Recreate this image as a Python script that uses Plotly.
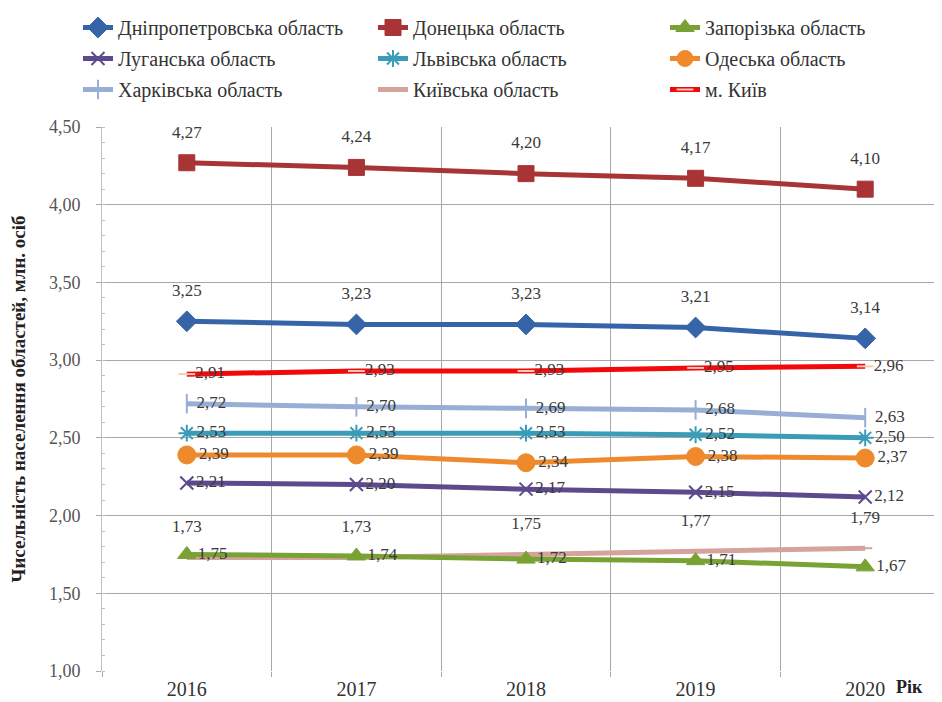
import plotly.graph_objects as go

years = ["2016", "2017", "2018", "2019", "2020"]

dnipro = [3.25, 3.23, 3.23, 3.21, 3.14]
donetsk = [4.27, 4.24, 4.20, 4.17, 4.10]
zaporizhzhia = [1.75, 1.74, 1.72, 1.71, 1.67]
luhansk = [2.21, 2.20, 2.17, 2.15, 2.12]
lviv = [2.53, 2.53, 2.53, 2.52, 2.50]
odesa = [2.39, 2.39, 2.34, 2.38, 2.37]
kharkiv = [2.72, 2.70, 2.69, 2.68, 2.63]
kyiv_obl = [1.73, 1.73, 1.75, 1.77, 1.79]
kyiv_city = [2.91, 2.93, 2.93, 2.95, 2.96]

y_ticks = [1.0, 1.5, 2.0, 2.5, 3.0, 3.5, 4.0, 4.5]

SERIF = "Times New Roman, Liberation Serif, serif"

def fmt(v):
    return f"{v:.2f}".replace(".", ",")

series = [
    # name, values, color, symbol, size, legend, label position
    ("Дніпропетровська область", dnipro, "#3565A8", "diamond", 16, "legend", "above"),
    ("Луганська область", luhansk, "#5D4A8C", "x-thin", 13, "legend", "right"),
    ("Харківська область", kharkiv, "#98AED4", "line-ns", 14, "legend", "right"),
    ("Донецька область", donetsk, "#A93435", "square", 16, "legend2", "above"),
    ("Львівська область", lviv, "#3A9CB6", "asterisk", 14, "legend2", "right"),
    ("Київська область", kyiv_obl, "#D6A29C", "line-ew", 10, "legend2", "above"),
    ("Запорізька область", zaporizhzhia, "#78A233", "triangle-up", 16, "legend3", "right"),
    ("Одеська область", odesa, "#EE8A2C", "circle", 18, "legend3", "right"),
    ("м. Київ", kyiv_city, "#F20A0A", "line-ew", 12, "legend3", "right"),
]

label_font = dict(family=SERIF, size=17, color="#3a3a3a")

fig = go.Figure()
for name, vals, color, sym, size, leg, pos in series:
    line_sym = sym in ("x-thin", "asterisk", "line-ns", "line-ew")
    if name == "м. Київ":
        mline = dict(color="#F6C9B8", width=2)
    elif line_sym:
        mline = dict(color=color, width=2)
    else:
        mline = dict(color=color, width=1)
    fig.add_trace(go.Scatter(
        x=years, y=vals, name=name,
        mode="lines+markers+text" if pos == "right" else "lines+markers",
        line=dict(color=color, width=5),
        marker=dict(symbol=sym, size=size, color=color, line=mline),
        text=[fmt(v) for v in vals] if pos == "right" else None,
        textposition="middle right",
        textfont=label_font,
        legend=leg, legendgroup=name,
        cliponaxis=False,
    ))

# labels above the points (text traces; invisible markers set the offset)
for name, vals, color, sym, size, leg, pos in series:
    if pos != "above":
        continue
    fig.add_trace(go.Scatter(
        x=years, y=vals, mode="markers+text",
        marker=dict(size=32, opacity=0, color=color),
        text=[fmt(v) for v in vals], textposition="top center",
        textfont=label_font, showlegend=False, hoverinfo="skip",
        cliponaxis=False,
    ))

PLOT_L, PLOT_R = 94, 942
PW = PLOT_R - PLOT_L

leg_common = dict(
    xref="paper", yref="container", xanchor="left", yanchor="top", y=1.026,
    orientation="v", tracegroupgap=2, bgcolor="rgba(0,0,0,0)",
    font=dict(family=SERIF, size=20, color="#333"), itemwidth=30,
)

fig.update_layout(
    width=942, height=702,
    margin=dict(l=PLOT_L, r=942 - PLOT_R, t=119, b=39),
    paper_bgcolor="white", plot_bgcolor="white",
    separators=", ",
    font=dict(family=SERIF),
    legend=dict(x=(70 - PLOT_L) / PW, **leg_common),
    legend2=dict(x=(365 - PLOT_L) / PW, **leg_common),
    legend3=dict(x=(657 - PLOT_L) / PW, **leg_common),
    showlegend=True,
)
fig.add_annotation(
    xref="paper", yref="paper",
    x=(917 - PLOT_L) / PW, y=-(691 - 663) / (663 - 119),
    text="<b>Рік</b>", showarrow=False,
    font=dict(family=SERIF, size=18, color="#222"),
)

fig.update_xaxes(
    type="category", range=[-0.5, 4.5], tickson="boundaries",
    showgrid=True, gridcolor="#a8a8a8", gridwidth=1,
    ticks="outside", ticklen=5, tickcolor="#a8a8a8",
    ticklabelstandoff=4,
    showline=False, zeroline=False,
    tickfont=dict(family=SERIF, size=20, color="#333"),
)
fig.update_yaxes(
    range=[1.0, 4.5], tickvals=y_ticks, ticktext=[fmt(v) for v in y_ticks],
    showgrid=True, gridcolor="#a8a8a8", gridwidth=1,
    ticks="outside", ticklen=5, tickcolor="#a8a8a8",
    ticklabelstandoff=12,
    minor=dict(dtick=0.1, ticks="inside", ticklen=3, tickcolor="#c0c0c0", showgrid=False),
    showline=True, linecolor="#c0c0c0", zeroline=False,
    tickfont=dict(family=SERIF, size=18, color="#555"),
    title=dict(text="<b>Чисельність населення областей, млн. осіб</b>",
               font=dict(family=SERIF, size=19, color="#222"), standoff=28),
)

fig.write_html("out.html")
